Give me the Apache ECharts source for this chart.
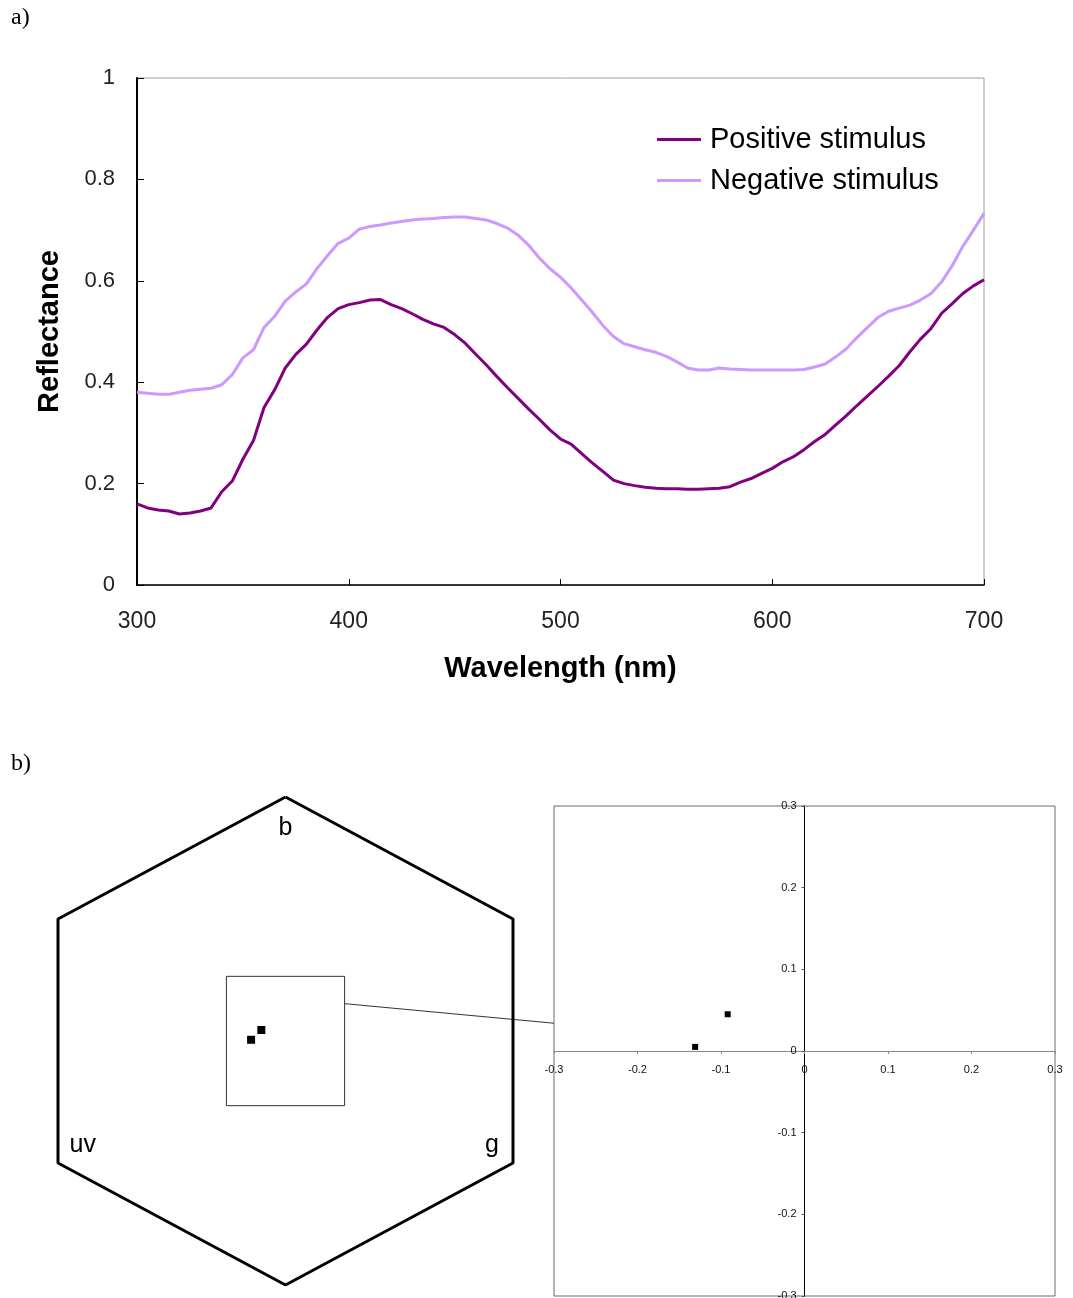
<!DOCTYPE html>
<html>
<head>
<meta charset="utf-8">
<script src="https://cdn.jsdelivr.net/npm/echarts@6/dist/echarts.min.js"></script>
<style>
  html, body { margin: 0; padding: 0; background: #fff; }
  #chart { width: 1073px; height: 1298px; }
</style>
</head>
<body>
<div id="chart"></div>
<script>
// Reflectance spectra sampled every 5 nm
const wavelengths = [];
for (let w = 300; w <= 700; w += 5) wavelengths.push(w);

const positiveStimulus = [
  0.160, 0.152, 0.148, 0.146, 0.140, 0.142, 0.146, 0.152, 0.184, 0.205,
  0.248, 0.285, 0.350, 0.385, 0.428, 0.455, 0.475, 0.503, 0.528, 0.545,
  0.553, 0.557, 0.562, 0.563, 0.553, 0.545, 0.535, 0.524, 0.515, 0.508,
  0.494, 0.477, 0.455, 0.434, 0.411, 0.389, 0.368, 0.347, 0.327, 0.306,
  0.288, 0.278, 0.259, 0.241, 0.224, 0.207, 0.200, 0.196, 0.193, 0.191,
  0.190, 0.190, 0.189, 0.189, 0.190, 0.191, 0.194, 0.203, 0.210, 0.220,
  0.230, 0.243, 0.253, 0.267, 0.283, 0.297, 0.316, 0.334, 0.354, 0.373,
  0.392, 0.412, 0.433, 0.460, 0.485, 0.506, 0.536, 0.555, 0.575, 0.590,
  0.602
];

const negativeStimulus = [
  0.380, 0.378, 0.376, 0.376, 0.380, 0.384, 0.386, 0.388, 0.395, 0.415,
  0.448, 0.464, 0.508, 0.530, 0.560, 0.578, 0.594, 0.624, 0.650, 0.674,
  0.684, 0.702, 0.707, 0.710, 0.714, 0.717, 0.720, 0.722, 0.723, 0.725,
  0.726, 0.726, 0.723, 0.720, 0.713, 0.704, 0.690, 0.670, 0.645, 0.624,
  0.607, 0.586, 0.562, 0.538, 0.512, 0.490, 0.476, 0.470, 0.464, 0.459,
  0.451, 0.440, 0.428, 0.424, 0.424, 0.428, 0.426, 0.425, 0.424, 0.424,
  0.424, 0.424, 0.424, 0.425, 0.430, 0.436, 0.450, 0.466, 0.488, 0.508,
  0.528, 0.540, 0.546, 0.552, 0.562, 0.575, 0.598, 0.630, 0.668, 0.700,
  0.733
];

// Colour hexagon loci of the two stimuli (x, y)
const stimulusX = [-0.131, -0.092];
const stimulusY = [0.005, 0.045];

// Hexagon outline and receptor corner labels
const hexVertices = [[0, 1], [0.866, 0.5], [0.866, -0.5], [0, -1], [-0.866, -0.5], [-0.866, 0.5], [0, 1]];
const receptorLabels = [
  { name: 'b', x: 0, y: 0.873 },
  { name: 'uv', x: -0.772, y: -0.427 },
  { name: 'g', x: 0.786, y: -0.427 }
];
// Region of the hexagon enlarged on the right
const insetBox = { x0: -0.225, x1: 0.225, y0: -0.265, y1: 0.265 };

const pairs = (xs, ys) => xs.map((x, i) => [x, ys[i]]);

const chart = echarts.init(document.getElementById('chart'));

const sans = '"Liberation Sans", Arial, sans-serif';

// enlarged plot box
const zoomGrid = { left: 554, top: 806, width: 501, height: 490 };

const option = {
  animation: false,
  backgroundColor: '#fff',
  grid: [
    { left: 137, top: 78, width: 847, height: 507, show: true, borderColor: '#a0a0a0', borderWidth: 1,
      containLabel: false, outerBoundsMode: 'none' },
    { left: 58, top: 797, width: 455, height: 488, containLabel: false, outerBoundsMode: 'none' },
    { left: zoomGrid.left, top: zoomGrid.top, width: zoomGrid.width, height: zoomGrid.height,
      show: true, borderColor: '#6a6a6a', borderWidth: 1, containLabel: false, outerBoundsMode: 'none' }
  ],
  xAxis: [
    {
      gridIndex: 0, type: 'value', min: 300, max: 700, interval: 100,
      name: 'Wavelength (nm)', nameLocation: 'middle', nameGap: 69,
      nameTextStyle: { fontFamily: sans, fontWeight: 'bold', fontSize: 29, color: '#000' },
      axisLine: { onZero: false, lineStyle: { color: '#000', width: 1.5 } },
      axisTick: { inside: true, length: 6, lineStyle: { color: '#000' } },
      axisLabel: { margin: 25, fontFamily: sans, fontSize: 23, color: '#222' },
      splitLine: { show: false }
    },
    {
      gridIndex: 1, type: 'value', min: -0.866, max: 0.866, show: false
    },
    {
      gridIndex: 2, type: 'value', min: -0.3, max: 0.3, interval: 0.1,
      position: 'bottom', offset: -zoomGrid.height / 2,
      axisLine: { onZero: false, lineStyle: { color: '#888', width: 1 } },
      axisTick: { length: 3, lineStyle: { color: '#888' } },
      axisLabel: { margin: 13, fontFamily: sans, fontSize: 11, color: '#111' },
      splitLine: { show: false }
    }
  ],
  yAxis: [
    {
      gridIndex: 0, type: 'value', min: 0, max: 1, interval: 0.2,
      name: 'Reflectance', nameLocation: 'middle', nameGap: 73,
      nameTextStyle: { fontFamily: sans, fontWeight: 'bold', fontSize: 29, color: '#000' },
      axisLine: { show: true, onZero: false, lineStyle: { color: '#000', width: 2 } },
      axisTick: { show: true, inside: true, length: 7, lineStyle: { color: '#000' } },
      axisLabel: { margin: 22, fontFamily: sans, fontSize: 22, color: '#222' },
      splitLine: { show: false }
    },
    {
      gridIndex: 1, type: 'value', min: -1, max: 1, show: false
    },
    {
      gridIndex: 2, type: 'value', min: -0.3, max: 0.3, interval: 0.1,
      position: 'left', offset: -zoomGrid.width / 2,
      axisLine: { show: true, onZero: false, lineStyle: { color: '#000', width: 1 } },
      axisTick: { show: true, length: 3, lineStyle: { color: '#555' } },
      axisLabel: { margin: 8, fontFamily: sans, fontSize: 11, color: '#111' },
      splitLine: { show: false }
    }
  ],
  legend: {
    data: ['Positive stimulus', 'Negative stimulus'],
    orient: 'vertical',
    left: 652, top: 120,
    itemWidth: 44, itemHeight: 3, itemGap: 12,
    icon: 'rect',
    textStyle: { fontFamily: sans, fontSize: 29, color: '#000', padding: [0, 0, 0, 4] }
  },
  series: [
    {
      name: 'Positive stimulus', type: 'line', xAxisIndex: 0, yAxisIndex: 0,
      data: pairs(wavelengths, positiveStimulus), showSymbol: false,
      lineStyle: { color: '#800080', width: 3 }, itemStyle: { color: '#800080' }
    },
    {
      name: 'Negative stimulus', type: 'line', xAxisIndex: 0, yAxisIndex: 0,
      data: pairs(wavelengths, negativeStimulus), showSymbol: false,
      lineStyle: { color: '#cc99ff', width: 3 }, itemStyle: { color: '#cc99ff' }
    },
    {
      name: 'hexagon', type: 'line', xAxisIndex: 1, yAxisIndex: 1,
      data: hexVertices, showSymbol: false, silent: true,
      lineStyle: { color: '#000', width: 3 }
    },
    {
      name: 'inset', type: 'line', xAxisIndex: 1, yAxisIndex: 1,
      data: [[insetBox.x0, insetBox.y0], [insetBox.x1, insetBox.y0], [insetBox.x1, insetBox.y1],
             [insetBox.x0, insetBox.y1], [insetBox.x0, insetBox.y0]],
      showSymbol: false, silent: true,
      lineStyle: { color: '#333', width: 1 }
    },
    {
      name: 'receptors', type: 'scatter', xAxisIndex: 1, yAxisIndex: 1,
      data: receptorLabels.map(r => ({ name: r.name, value: [r.x, r.y] })),
      symbolSize: 0, silent: true, itemStyle: { opacity: 1 },
      label: { show: true, position: 'inside', formatter: '{b}', fontFamily: sans, fontSize: 25, color: '#000' }
    },
    {
      name: 'loci', type: 'scatter', xAxisIndex: 1, yAxisIndex: 1,
      data: pairs(stimulusX, stimulusY), symbol: 'rect', symbolSize: 8,
      itemStyle: { color: '#000', opacity: 1 }
    },
    {
      name: 'loci zoomed', type: 'scatter', xAxisIndex: 2, yAxisIndex: 2,
      data: pairs(stimulusX, stimulusY), symbol: 'rect', symbolSize: 6,
      itemStyle: { color: '#000', opacity: 1 }
    }
  ]
};

chart.setOption(option);

// Connector from the inset box to the enlarged plot, plus panel letters
const from = chart.convertToPixel({ gridIndex: 1 }, [insetBox.x1, 0.153]);
const to = chart.convertToPixel({ gridIndex: 2 }, [-0.3, 0.034]);
chart.setOption({
  graphic: [
    { type: 'line', shape: { x1: from[0], y1: from[1], x2: to[0], y2: to[1] },
      style: { stroke: '#333', lineWidth: 1 }, silent: true },
    { type: 'text', left: 11, top: 6,
      style: { text: 'a)', font: '24px "Liberation Serif", "Times New Roman", serif', fill: '#000' } },
    { type: 'text', left: 11, top: 752,
      style: { text: 'b)', font: '24px "Liberation Serif", "Times New Roman", serif', fill: '#000' } }
  ]
});
</script>
</body>
</html>
